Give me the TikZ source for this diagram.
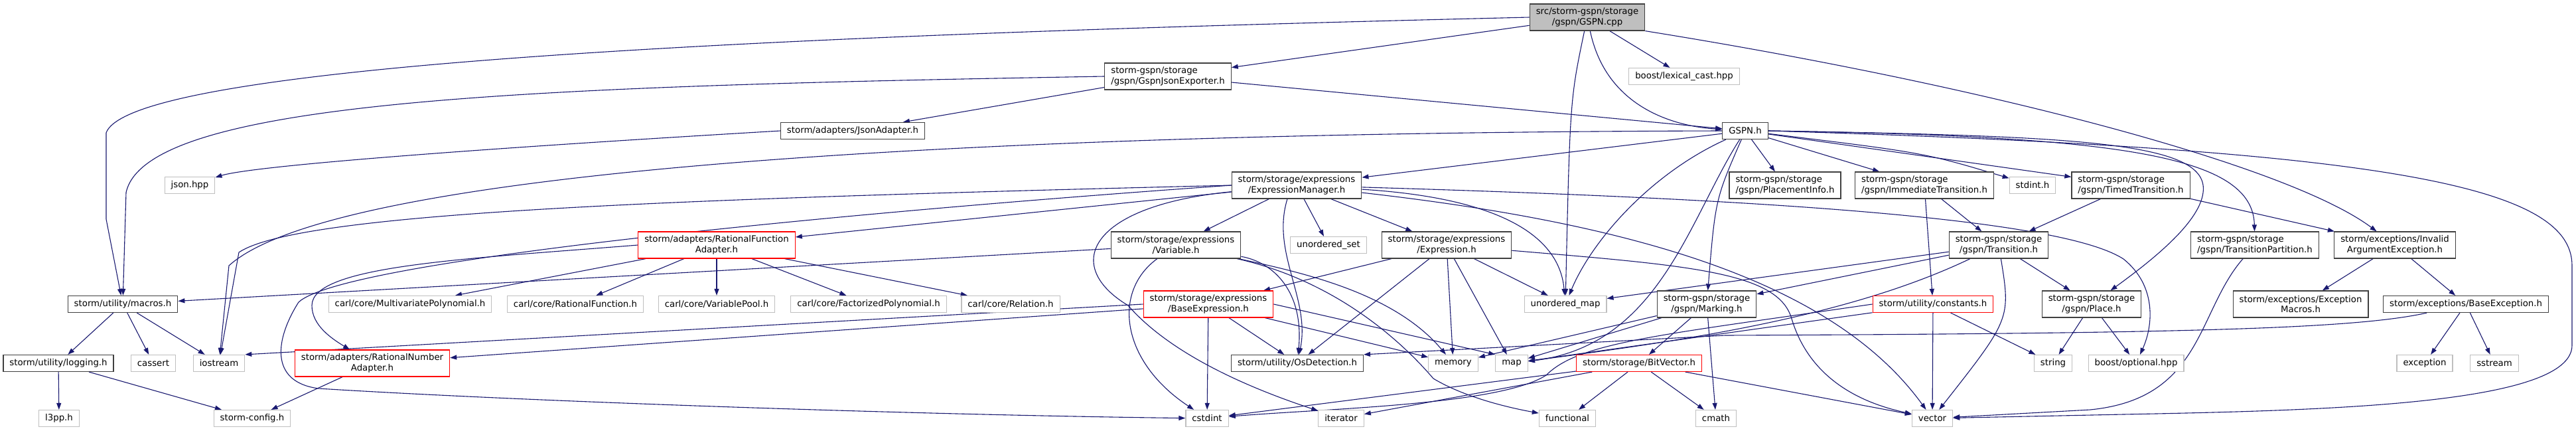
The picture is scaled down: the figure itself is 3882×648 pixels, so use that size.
\documentclass[tikz,border=0pt]{standalone}
\usepackage{fontspec}
\setmainfont{DejaVu Sans}
\usetikzlibrary{arrows.meta}
\definecolor{edgec}{HTML}{191970}
\definecolor{gdark}{HTML}{404040}
\definecolor{glight}{HTML}{BFBFBF}
\definecolor{gred}{HTML}{FF0000}
\pgfdeclarelayer{bg}
\pgfsetlayers{bg,main}
\tikzset{
 nb/.style={draw=gdark, fill=white, line width=1.2pt, inner xsep=9.5pt, inner ysep=2pt, minimum height=25pt, font=\fontsize{13.3}{15.5}\selectfont, text=black},
 ext/.style={nb, draw=glight},
 trunc/.style={nb, draw=gred},
 rootbox/.style={nb, fill=glight},
 dbl/.style={minimum height=40pt, align=center},
 dbll/.style={minimum height=40pt, align=left},
 dep/.style={draw=edgec, line width=1.1pt, -{Triangle[length=10pt,width=7pt]}},
}
\begin{document}
\begin{tikzpicture}[x=1pt,y=-1pt]
\useasboundingbox (0,0) rectangle (3882,648);
% row 0-1
\node[rootbox,dbl] (cpp) at (2392,26) {src/storm-gspn/storage\\/gspn/GSPN.cpp};
\node[nb,dbll] (gje) at (1760,115) {storm-gspn/storage\\/gspn/GspnJsonExporter.h};
\node[ext] (lex) at (2538,115) {boost/lexical\_cast.hpp};
% row 2
\node[nb] (jad) at (1285,197) {storm/adapters/JsonAdapter.h};
\node[nb] (gspnh) at (2630,197) {GSPN.h};
% row 3
\node[ext] (json) at (286,279) {json.hpp};
\node[nb,dbl] (em) at (1954,279) {storm/storage/expressions\\/ExpressionManager.h};
\node[nb,dbll] (pinfo) at (2690,279) {storm-gspn/storage\\/gspn/PlacementInfo.h};
\node[nb,dbll] (imm) at (2900,279) {storm-gspn/storage\\/gspn/ImmediateTransition.h};
\node[ext] (stdint) at (3063,279) {stdint.h};
\node[nb,dbll] (timed) at (3211,279) {storm-gspn/storage\\/gspn/TimedTransition.h};
% row 4
\node[trunc,dbl] (rfa) at (1080,369) {storm/adapters/RationalFunction\\Adapter.h};
\node[nb,dbl] (var) at (1772,369) {storm/storage/expressions\\/Variable.h};
\node[ext] (uset) at (2002,369) {unordered\_set};
\node[nb,dbl] (expr) at (2180,369) {storm/storage/expressions\\/Expression.h};
\node[nb,dbl] (trans) at (3012,369) {storm-gspn/storage\\/gspn/Transition.h};
\node[nb,dbll] (tpart) at (3398,369) {storm-gspn/storage\\/gspn/TransitionPartition.h};
\node[nb,dbl] (inv) at (3609,369) {storm/exceptions/Invalid\\ArgumentException.h};
% row 5
\node[nb] (macros) at (185,458) {storm/utility/macros.h};
\node[ext] (mpoly) at (618,458) {carl/core/MultivariatePolynomial.h};
\node[ext] (rfun) at (867,458) {carl/core/RationalFunction.h};
\node[ext] (vpool) at (1080,458) {carl/core/VariablePool.h};
\node[ext] (fpoly) at (1309,458) {carl/core/FactorizedPolynomial.h};
\node[ext] (rel) at (1523,458) {carl/core/Relation.h};
\node[trunc,dbl] (bexpr) at (1821,458) {storm/storage/expressions\\/BaseExpression.h};
\node[ext] (umap) at (2359,458) {unordered\_map};
\node[nb,dbl] (mark) at (2572,458) {storm-gspn/storage\\/gspn/Marking.h};
\node[trunc] (const) at (2913,458) {storm/utility/constants.h};
\node[nb,dbl] (place) at (3152,458) {storm-gspn/storage\\/gspn/Place.h};
\node[nb,dbl] (emac) at (3467,458) {storm/exceptions/Exception\\Macros.h};
\node[nb] (bexc) at (3716,458) {storm/exceptions/BaseException.h};
% row 6
\node[nb] (logging) at (88,547) {storm/utility/logging.h};
\node[ext] (cassert) at (231,547) {cassert};
\node[ext] (iostream) at (330,547) {iostream};
\node[trunc,dbl] (rna) at (561,547) {storm/adapters/RationalNumber\\Adapter.h};
\node[nb] (osd) at (1955,547) {storm/utility/OsDetection.h};
\node[ext] (memory) at (2190,547) {memory};
\node[ext] (map) at (2278,547) {map};
\node[trunc] (bitvec) at (2470,547) {storm/storage/BitVector.h};
\node[ext] (string) at (3094,547) {string};
\node[ext] (bopt) at (3219,547) {boost/optional.hpp};
\node[ext] (exception) at (3654,547) {exception};
\node[ext] (sstream) at (3759,547) {sstream};
% row 7
\node[ext] (l3pp) at (89,630) {l3pp.h};
\node[ext] (config) at (380,630) {storm-config.h};
\node[ext] (cstdint) at (1819,630) {cstdint};
\node[ext] (iterator) at (2021,630) {iterator};
\node[ext] (functional) at (2362,630) {functional};
\node[ext] (cmath) at (2586,630) {cmath};
\node[ext] (vector) at (2912,630) {vector};

\begin{pgfonlayer}{bg}
\fill[white] (0,0) rectangle (3882,648);
% GSPN.cpp
\draw[dep] (cpp.west) .. controls (1300,50) and (200,90) .. (160,200) -- (160,330) -- (macros);
\draw[dep] (cpp) -- (gje);
\draw[dep] (cpp) .. controls (2366,150) .. (umap);
\draw[dep] (cpp) .. controls (2420,160) and (2520,190) .. (gspnh);
\draw[dep] (cpp) -- (lex);
\draw[dep] (cpp.south east) .. controls (3000,130) and (3450,250) .. (inv);
% GspnJsonExporter
\draw[dep] (gje) -- (jad);
\draw[dep] (gje) -- (gspnh);
\draw[dep] (gje.west) .. controls (800,130) and (220,150) .. (190,290) -- (macros);
\draw[dep] (jad.west) .. controls (700,225) and (380,250) .. (json);
% GSPN.h
\draw[dep] (gspnh.west) .. controls (1400,200) and (500,260) .. (345,400) -- (iostream);
\draw[dep] (gspnh) -- (em);
\draw[dep] (gspnh) -- (pinfo);
\draw[dep] (gspnh) -- (imm);
\draw[dep] (gspnh) .. controls (2900,230) .. (stdint);
\draw[dep] (gspnh) -- (timed);
\draw[dep] (gspnh.east) .. controls (3200,205) and (3395,235) .. (tpart);
\draw[dep] (gspnh.east) .. controls (3150,205) and (3330,215) .. (3320,290) .. controls (3315,330) and (3260,380) .. (place);
\draw[dep] (gspnh.east) .. controls (3600,225) and (3876,280) .. (3876,400) -- (3876,520) .. controls (3876,610) and (3500,618) .. (3200,624) -- (vector);
\draw[dep] (gspnh) .. controls (2585,300) .. (mark);
\draw[dep] (gspnh) .. controls (2490,260) and (2400,360) .. (umap);
\draw[dep] (gspnh) .. controls (2545,330) and (2500,520) .. (map);
% Transition.h etc.
\draw[dep] (trans) -- (umap);
\draw[dep] (trans) -- (mark);
\draw[dep] (trans) .. controls (2780,480) and (2520,515) .. (map);
\draw[dep] (trans) -- (place);
\draw[dep] (trans) .. controls (3030,480) .. (vector);
\draw[dep] (imm) -- (trans);
\draw[dep] (imm) -- (const);
\draw[dep] (timed) -- (trans);
\draw[dep] (timed) -- (inv);
\draw[dep] (place) -- (string);
\draw[dep] (place) -- (bopt);
\draw[dep] (const) -- (vector);
\draw[dep] (const) -- (string);
\draw[dep] (const) -- (map);
\draw[dep] (const.west) .. controls (2500,505) and (2380,515) .. (2330,565) .. controls (2260,610) and (2000,615) .. (cstdint);
% Marking / BitVector
\draw[dep] (mark) -- (bitvec);
\draw[dep] (mark) -- (cmath);
\draw[dep] (mark) -- (memory);
\draw[dep] (mark) -- (map);
\draw[dep] (bitvec) -- (cstdint);
\draw[dep] (bitvec) -- (iterator);
\draw[dep] (bitvec) -- (functional);
\draw[dep] (bitvec) -- (cmath);
\draw[dep] (bitvec) -- (vector);
% TransitionPartition, exceptions
\draw[dep] (tpart) .. controls (3310,470) and (3320,600) .. (3150,617) -- (vector);
\draw[dep] (inv) -- (emac);
\draw[dep] (inv) -- (bexc);
\draw[dep] (bexc) -- (exception);
\draw[dep] (bexc) -- (sstream);
\draw[dep] (bexc) .. controls (3550,495) and (3300,502) .. (2600,505) -- (osd.north east);
% ExpressionManager
\draw[dep] (em.west) .. controls (1000,300) and (450,320) .. (360,380) -- (iostream);
\draw[dep] (em.west) .. controls (1300,318) and (520,390) .. (450,455) .. controls (415,510) and (405,575) .. (480,585) .. controls (800,605) and (1400,625) .. (cstdint);
\draw[dep] (em) -- (rfa);
\draw[dep] (em) .. controls (1640,310) and (1600,400) .. (1700,460) .. controls (1770,540) and (1900,590) .. (iterator);
\draw[dep] (em) -- (var);
\draw[dep] ([xshift=-14pt]em.south) .. controls (1915,380) and (1975,450) .. (osd);
\draw[dep] (em) -- (uset);
\draw[dep] (em) -- (expr);
\draw[dep] (em) .. controls (2260,298) and (2350,355) .. (umap);
\draw[dep] (em) .. controls (2450,335) and (2760,420) .. (vector);
\draw[dep] (em) .. controls (2600,298) and (3100,325) .. (3200,390) .. controls (3250,430) and (3245,490) .. (bopt);
% Variable
\draw[dep] (var) -- (macros);
\draw[dep] (var) .. controls (1675,440) and (1690,545) .. (cstdint);
\draw[dep] (var) .. controls (1960,410) and (2100,440) .. (memory);
\draw[dep] (var) .. controls (2000,420) and (2100,500) .. (2160,570) .. controls (2210,600) and (2280,615) .. (functional);
\draw[dep] (var) .. controls (1920,395) and (1965,440) .. (osd);
% Expression
\draw[dep] (expr) -- (bexpr);
\draw[dep] (expr) -- (osd);
\draw[dep] (expr) -- (memory);
\draw[dep] (expr) -- (map);
\draw[dep] (expr) -- (umap);
\draw[dep] (expr) .. controls (2550,400) and (2680,410) .. (2700,480) .. controls (2730,580) and (2820,610) .. (vector);
% BaseExpression
\draw[dep] (bexpr.west) -- (iostream.north east);
\draw[dep] (bexpr) -- (rna);
\draw[dep] (bexpr) -- (cstdint);
\draw[dep] (bexpr) -- (osd);
\draw[dep] (bexpr.east) -- (map.north west);
\draw[dep] (bexpr) -- (memory);
% RationalFunctionAdapter
\draw[dep] (rfa.west) .. controls (700,390) and (470,400) .. (470,460) .. controls (470,490) and (500,510) .. (rna);
\draw[dep] (rfa) -- (mpoly);
\draw[dep] (rfa) -- (rfun);
\draw[dep] (rfa) -- (vpool);
\draw[dep] (rfa) -- (fpoly);
\draw[dep] (rfa) -- (rel);
\draw[dep] (rna) -- (config);
% macros / logging
\draw[dep] (macros) -- (logging);
\draw[dep] (macros) -- (cassert);
\draw[dep] (macros) -- (iostream);
\draw[dep] (logging) -- (l3pp);
\draw[dep] (logging) -- (config);
\end{pgfonlayer}
\end{tikzpicture}
\end{document}
